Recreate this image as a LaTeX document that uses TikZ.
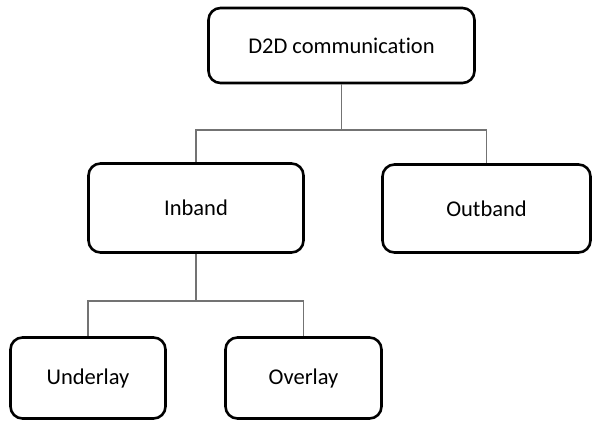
\documentclass[tikz,border=0pt]{standalone}
\usepackage{fontspec}
\setmainfont[Ligatures={NoCommon}]{Carlito}
\usetikzlibrary{positioning}
\begin{document}
\begin{tikzpicture}[x=1pt,y=1pt,
	round/.style={rounded corners=12pt,draw,line width=2.6pt,inner sep=0pt,align=center,font=\fontsize{22.5}{27}\selectfont},
	link/.style={draw=black!55,line width=1.4pt}]

	\useasboundingbox (0,0) rectangle (592,-421);

	\node[round, minimum width=266pt, minimum height=75pt] (d2d) at (341.5,-45.5) {D2D communication};
	\node[round, minimum width=215pt, minimum height=89pt] (inband) at (196,-208) {Inband};
	\node[round, minimum width=208pt, minimum height=88pt] (outband) at (486.5,-208.5) {Outband};
	\node[round, minimum width=155pt, minimum height=81pt] (underlay) at (88,-378) {Underlay};
	\node[round, minimum width=156pt, minimum height=81pt] (overlay) at (303.5,-378) {Overlay};

	\coordinate (split1) at (341.5,-130);
	\coordinate (split2) at (196,-301);
	\path[link] (d2d.south) -- (split1);
	\path[link] (inband.north) |- (split1) -| (outband.north);
	\path[link] (inband.south) -- (split2);
	\path[link] (underlay.north) |- (split2) -| (overlay.north);

\end{tikzpicture}
\end{document}
